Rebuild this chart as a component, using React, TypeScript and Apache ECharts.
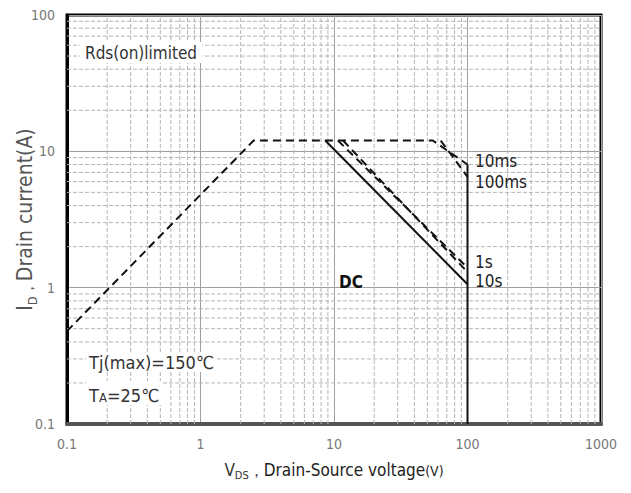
import React, { useEffect, useRef } from "react";
import * as echarts from "echarts";

// ---- data ----
const curve10ms: [number, number][] = [[0.1, 0.48], [2.5, 12], [55, 12], [100, 8.0]];
const curve100ms: [number, number][] = [[63, 12], [100, 6.5]];
const curve1s: [number, number][] = [[10.7, 12], [100, 1.4]];
const curve10s: [number, number][] = [[11.7, 12], [100, 1.3]];
const curveDC: [number, number][] = [[8.6, 12], [100, 1.06]];
const limitVds: [number, number][] = [[100, 8.0], [100, 0.1]];

const xRange = [0.1, 1000];
const yRange = [0.1, 100];
const xDecades = [0.1, 1, 10, 100];
const yDecades = [0.1, 1, 10];
const minorMultipliers = [2, 3, 4, 5, 6, 7, 8, 9];
const xTickLabels = ["0.1", "1", "10", "100", "1000"];
const yTickLabels = ["0.1", "1", "10", "100"];

const curveLabels = ["10ms", "100ms", "1s", "10s", "DC"];

const FONT = "'Liberation Sans Narrow', 'DejaVu Sans Condensed', 'Liberation Sans', Arial, sans-serif";

const xMinor = xDecades.flatMap((d) => minorMultipliers.map((m) => Number((d * m).toPrecision(3))));
const yMinor = yDecades.flatMap((d) => minorMultipliers.map((m) => Number((d * m).toPrecision(3))));

const fmt = (v: number) => String(Number(v.toPrecision(3)));

export default function App() {
  const ref = useRef<HTMLDivElement>(null);
  useEffect(() => {
    if (!ref.current) return;
    const chart = echarts.init(ref.current, undefined, { renderer: "svg" });
    const dashed = { type: [8, 5] as number[], color: "#111", width: 2 };
    const solid = { type: "solid" as const, color: "#111", width: 2 };
    const mkLine = (name: string, data: any[], lineStyle: any, z = 5) => ({
      name,
      type: "line" as const,
      data,
      showSymbol: false,
      symbol: "none",
      connectNulls: false,
      lineStyle,
      z,
      silent: true,
    });
    const vGrid: any[] = [];
    xMinor.forEach((v) => {
      vGrid.push([v, yRange[0]], [v, yRange[1]], ["-", "-"]);
    });
    const hGrid: any[] = [];
    yMinor.forEach((v) => {
      hGrid.push([xRange[0], v], [xRange[1], v], ["-", "-"]);
    });
    const gridStyle = { type: [4, 2] as number[], color: "#b4b4b4", width: 1 };
    const option: any = {
      animation: false,
      backgroundColor: "#fff",
      grid: {
        left: 67,
        top: 15,
        right: 30,
        bottom: 69,
        containLabel: false,
        outerBoundsMode: "none",
        show: true,
        borderColor: "#000",
        borderWidth: 3,
        backgroundColor: "#fff",
      },
      xAxis: {
        type: "log",
        logBase: 10,
        min: xRange[0],
        max: xRange[1],
        axisLine: { show: true, onZero: false, lineStyle: { color: "#555", width: 4 } },
        axisTick: { show: false },
        axisLabel: {
          color: "#777",
          fontSize: 14,
          margin: 13,
          fontFamily: FONT,
          formatter: (v: number) => {
            const s = fmt(v);
            return xTickLabels.includes(s) ? s : "";
          },
        },
        splitLine: { show: true, lineStyle: { color: "#a0a0a0", width: 1 } },
        name: "{v|V}{s|DS}{c|，}{n|Drain-Source voltage}{p|(V)}",
        nameLocation: "middle",
        nameGap: 34,
        nameTextStyle: {
          rich: {
            v: { fontSize: 17, color: "#333", fontFamily: FONT, verticalAlign: "bottom", lineHeight: 20 },
            s: { fontSize: 11, color: "#333", fontFamily: FONT, verticalAlign: "bottom", lineHeight: 20, padding: [0, 0, -3, 0] },
            c: { fontSize: 15, color: "#333", fontFamily: FONT, verticalAlign: "bottom", lineHeight: 20 },
            n: { fontSize: 17, color: "#222", fontFamily: FONT, verticalAlign: "bottom", lineHeight: 20 },
            p: { fontSize: 14, color: "#222", fontFamily: FONT, verticalAlign: "bottom", lineHeight: 20 },
          },
        },
      },
      yAxis: {
        type: "log",
        logBase: 10,
        min: yRange[0],
        max: yRange[1],
        axisLine: { show: true, onZero: false, lineStyle: { color: "#000", width: 3 } },
        axisTick: { show: false },
        axisLabel: {
          color: "#777",
          fontSize: 14,
          margin: 12,
          fontFamily: FONT,
          formatter: (v: number) => {
            const s = fmt(v);
            return yTickLabels.includes(s) ? s : "";
          },
        },
        splitLine: { show: true, lineStyle: { color: "#a0a0a0", width: 1 } },
        name: "{i|I}{s|D}{c|，}{n|Drain current(A)}",
        nameLocation: "middle",
        nameMoveOverlap: false,
        nameGap: 32,
        nameTextStyle: {
          rich: {
            i: { fontSize: 21, color: "#555", fontFamily: FONT, verticalAlign: "bottom", lineHeight: 24 },
            s: { fontSize: 13, color: "#555", fontFamily: FONT, verticalAlign: "bottom", lineHeight: 24, padding: [0, 0, -4, 0] },
            c: { fontSize: 15, color: "#555", fontFamily: FONT, verticalAlign: "bottom", lineHeight: 24 },
            n: { fontSize: 21, color: "#555", fontFamily: FONT, verticalAlign: "bottom", lineHeight: 24 },
          },
        },
      },
      series: [
        mkLine("minor-x", vGrid, gridStyle, 1),
        mkLine("minor-y", hGrid, gridStyle, 1),
        mkLine("10ms", curve10ms, dashed),
        mkLine("100ms", curve100ms, dashed),
        mkLine("1s", curve1s, dashed),
        mkLine("10s", curve10s, dashed),
        mkLine("DC", curveDC, solid),
        mkLine("VDS limit", limitVds, solid),
      ],
      graphic: [
        {
          type: "text",
          left: 80,
          top: 42,
          z: 10,
          style: {
            text: "Rds(on)limited",
            fontSize: 17,
            fontFamily: FONT,
            fill: "#333",
            backgroundColor: "#fff",
            padding: [2, 5],
          },
        },
        {
          type: "text",
          left: 86,
          top: 352,
          z: 10,
          style: {
            text: "Tj(max)=150℃",
            fontSize: 18,
            fontFamily: FONT,
            fill: "#333",
            backgroundColor: "#fff",
            padding: [1, 3],
          },
        },
        {
          type: "text",
          left: 86,
          top: 381,
          z: 10,
          style: {
            text: "{t|T}{a|A}{t|=25℃}",
            backgroundColor: "#fff",
            padding: [1, 3],
            rich: {
              t: { fontSize: 18, fontFamily: FONT, fill: "#333", color: "#333", verticalAlign: "bottom", lineHeight: 22 },
              a: { fontSize: 13, fontFamily: FONT, fill: "#333", color: "#333", verticalAlign: "bottom", lineHeight: 20 },
            },
          },
        },
        { type: "text", left: 475, top: 152, z: 10, style: { text: curveLabels[0], fontSize: 17, fontFamily: FONT, fill: "#222" } },
        { type: "text", left: 475, top: 173, z: 10, style: { text: curveLabels[1], fontSize: 17, fontFamily: FONT, fill: "#222" } },
        { type: "text", left: 475, top: 253, z: 10, style: { text: curveLabels[2], fontSize: 17, fontFamily: FONT, fill: "#222" } },
        { type: "text", left: 475, top: 272, z: 10, style: { text: curveLabels[3], fontSize: 17, fontFamily: FONT, fill: "#222" } },
        { type: "text", left: 339, top: 273, z: 10, style: { text: curveLabels[4], fontSize: 17, fontWeight: "bold", fontFamily: FONT, fill: "#111" } },
      ],
    };
    chart.setOption(option);
    return () => chart.dispose();
  }, []);
  return (
    <div
      ref={ref}
      style={{ position: "fixed", left: 0, top: 0, width: 631, height: 493, background: "#fff" }}
    />
  );
}
